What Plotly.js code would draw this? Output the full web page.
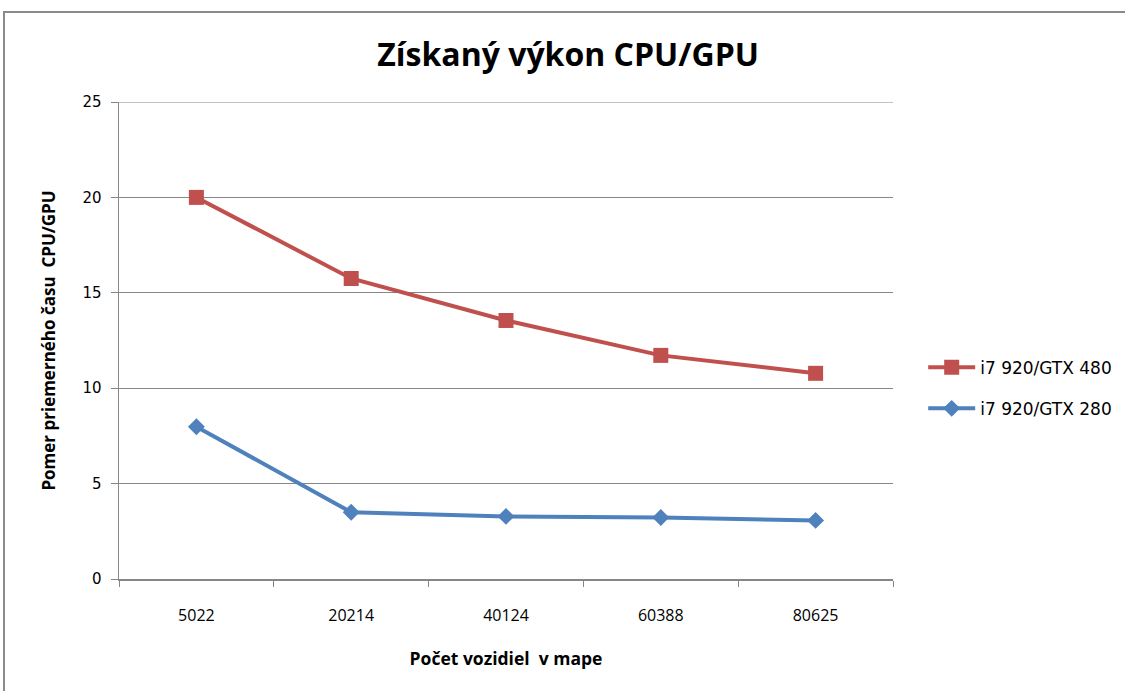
<!DOCTYPE html>
<html><head><meta charset="utf-8">
<script src="https://cdn.plot.ly/plotly-3.0.1.min.js"></script>
<style>
html,body{margin:0;padding:0;background:#fff;overflow:hidden;}
#chart{position:absolute;left:0;top:0;width:1125px;height:691px;}
#frame{position:absolute;left:3px;top:11px;width:1200px;height:800px;border-left:2px solid #8a8a8a;border-top:2px solid #8a8a8a;pointer-events:none;}
</style></head>
<body>
<div id="chart"></div>
<div id="frame"></div>
<script>
const categories = ['5022','20214','40124','60388','80625'];
const gtx480 = [20.0, 15.75, 13.55, 11.72, 10.78];
const gtx280 = [7.98, 3.5, 3.28, 3.22, 3.07];
const seriesNames = ['i7 920/GTX 480', 'i7 920/GTX 280'];
const yTicks = [0,5,10,15,20,25];
const yMax = 25;

const traces = [
  {x: categories, y: gtx480, name: seriesNames[0], type:'scatter', mode:'lines+markers',
   line:{color:'#C0504D', width:4}, marker:{symbol:'square', size:15, color:'#C0504D'},
   legendgroup:'a'},
  {x: categories, y: gtx280, name: seriesNames[1], type:'scatter', mode:'lines+markers',
   line:{color:'#4F81BD', width:4}, marker:{symbol:'diamond', size:13, color:'#4F81BD'},
   legendgroup:'b'}
];

const layout = {
  width:1125, height:691,
  margin:{l:119, r:232, t:102, b:112, autoexpand:false},
  paper_bgcolor:'#fff', plot_bgcolor:'#fff',
  title:{text:'Získaný výkon CPU/GPU', x:0.505, xanchor:'center', y:0.92, yanchor:'middle',
    font:{family:'Open Sans', size:32, color:'#000', weight:700}},
  xaxis:{type:'category', range:[-0.5,4.5], tickson:'boundaries', ticks:'outside', ticklen:6,
    tickcolor:'#868686', showline:true, linecolor:'#868686', linewidth:1.5, showgrid:false,
    tickfont:{family:'Open Sans', size:16, color:'#000'}, ticklabelstandoff:21,
    title:{text:'Počet vozidiel  v mape', standoff:28, font:{family:'Open Sans', size:17.5, color:'#000', weight:700}}},
  yaxis:{range:[0,yMax], tickvals:yTicks, ticks:'outside', ticklen:7, tickcolor:'#868686',
    showline:true, linecolor:'#868686', linewidth:1.5, gridcolor:'#868686', gridwidth:1,
    zeroline:false, tickfont:{family:'DejaVu Sans', size:15, color:'#000'}, ticklabelstandoff:6,
    title:{text:'Pomer priemerného času  CPU/GPU', standoff:22, font:{family:'Open Sans', size:17, color:'#000', weight:700}}},
  shapes:[{type:'line', xref:'paper', yref:'y', x0:0, x1:1, y0:yMax, y1:yMax, line:{color:'#868686', width:1}}],
  legend:{x:1.039, xanchor:'left', y:0.40, yanchor:'middle', traceorder:'grouped', tracegroupgap:16,
    itemwidth:47, font:{family:'DejaVu Sans', size:17, color:'#000'}, bgcolor:'rgba(0,0,0,0)'},
  showlegend:true
};
Plotly.newPlot('chart', traces, layout, {displayModeBar:false, staticPlot:true});
</script>
</body></html>
